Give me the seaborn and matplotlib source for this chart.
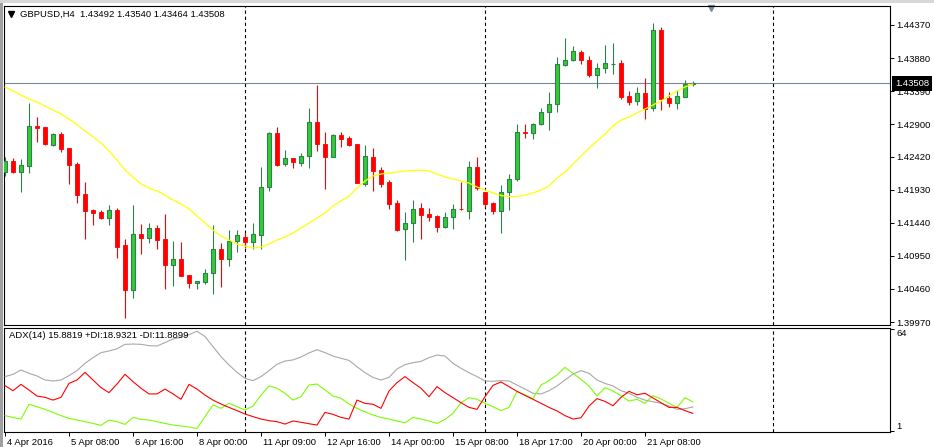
import numpy as np
import pandas as pd
import matplotlib
matplotlib.use("Agg")
import matplotlib.pyplot as plt
import seaborn as sns
from matplotlib.transforms import blended_transform_factory, ScaledTranslation
from matplotlib.patches import Rectangle

# ---------------- data ----------------
opens = [1.42188, 1.42355, 1.42197, 1.42286, 1.42869, 1.42854, 1.42597, 1.42755, 1.42543, 1.42311,
         1.41862, 1.41625, 1.41595, 1.41515, 1.41629, 1.41111, 1.40449, 1.41269, 1.41210, 1.41358,
         1.41195, 1.40819, 1.40899, 1.40662, 1.40552, 1.40567, 1.40691, 1.41047, 1.40908, 1.41166,
         1.41225, 1.41160, 1.41265, 1.41966, 1.42770, 1.42315, 1.42395, 1.42330, 1.42425, 1.42929,
         1.42611, 1.42419, 1.42736, 1.42690, 1.42600, 1.42019, 1.42414, 1.42222, 1.42044, 1.41733,
         1.41343, 1.41432, 1.41659, 1.41570, 1.41540, 1.41382, 1.41521, 1.41648, 1.41619, 1.42267,
         1.41896, 1.41733, 1.41619, 1.41891, 1.42089, 1.42780, 1.42766, 1.42899, 1.43077, 1.43195,
         1.43777, 1.43847, 1.43966, 1.43847, 1.43634, 1.43729, 1.43788, 1.43803, 1.43318, 1.43240,
         1.43358, 1.43136, 1.44291, 1.43284, 1.43210, 1.43308, 1.43492]
highs = [1.42410, 1.42395, 1.42385, 1.43214, 1.43007, 1.42860, 1.42774, 1.42780, 1.42545, 1.42340,
         1.42044, 1.41640, 1.41625, 1.41699, 1.41659, 1.41200, 1.41703, 1.41422, 1.41437, 1.41403,
         1.41570, 1.41170, 1.41155, 1.40665, 1.40580, 1.40755, 1.41407, 1.41140, 1.41333, 1.41333,
         1.41284, 1.41437, 1.42266, 1.42785, 1.42859, 1.42518, 1.42400, 1.42474, 1.43140, 1.43481,
         1.42785, 1.42755, 1.42785, 1.42726, 1.42600, 1.42592, 1.42548, 1.42271, 1.42078, 1.41777,
         1.41600, 1.41777, 1.41737, 1.41659, 1.41555, 1.41600, 1.41718, 1.42044, 1.42360, 1.42414,
         1.41896, 1.41748, 1.42000, 1.42163, 1.42903, 1.42903, 1.42918, 1.43140, 1.43377, 1.43896,
         1.44177, 1.44059, 1.44004, 1.43906, 1.43803, 1.44074, 1.44103, 1.43847, 1.43392, 1.43451,
         1.43589, 1.44400, 1.44336, 1.43377, 1.43407, 1.43555, 1.43540]
lows = [1.42137, 1.42177, 1.41900, 1.42177, 1.42637, 1.42592, 1.42582, 1.42493, 1.42019, 1.41737,
        1.41204, 1.41411, 1.41496, 1.41411, 1.40923, 1.40034, 1.40330, 1.40982, 1.41145, 1.41056,
        1.40463, 1.40508, 1.40647, 1.40478, 1.40463, 1.40537, 1.40389, 1.40493, 1.40804, 1.41011,
        1.41062, 1.41056, 1.41056, 1.41915, 1.42286, 1.42286, 1.42256, 1.42286, 1.42256, 1.42503,
        1.41945, 1.42415, 1.42567, 1.42577, 1.42030, 1.41989, 1.41915, 1.41974, 1.41649, 1.41323,
        1.40893, 1.41160, 1.41204, 1.41471, 1.41308, 1.41367, 1.41352, 1.41635, 1.41500, 1.41930,
        1.41678, 1.41574, 1.41293, 1.41629, 1.42063, 1.42700, 1.42686, 1.42889, 1.42819, 1.43086,
        1.43767, 1.43837, 1.43797, 1.43604, 1.43441, 1.43663, 1.43649, 1.43278, 1.43189, 1.43189,
        1.42982, 1.43100, 1.43115, 1.43160, 1.43130, 1.43305, 1.43464]
closes = [1.42355, 1.42197, 1.42291, 1.42869, 1.42844, 1.42607, 1.42755, 1.42537, 1.42300, 1.41856,
          1.41619, 1.41589, 1.41515, 1.41625, 1.41086, 1.40449, 1.41269, 1.41210, 1.41358, 1.41189,
          1.40819, 1.40899, 1.40656, 1.40552, 1.40577, 1.40691, 1.41047, 1.40908, 1.41166, 1.41254,
          1.41160, 1.41269, 1.41966, 1.42770, 1.42296, 1.42395, 1.42345, 1.42425, 1.42929, 1.42611,
          1.42419, 1.42736, 1.42686, 1.42592, 1.42034, 1.42425, 1.42211, 1.42019, 1.41723, 1.41337,
          1.41432, 1.41640, 1.41560, 1.41530, 1.41382, 1.41521, 1.41644, 1.41640, 1.42262, 1.41955,
          1.41723, 1.41619, 1.41891, 1.42089, 1.42780, 1.42766, 1.42899, 1.43077, 1.43195, 1.43788,
          1.43847, 1.43980, 1.43847, 1.43629, 1.43729, 1.43803, 1.43797, 1.43308, 1.43234, 1.43358,
          1.43130, 1.44291, 1.43278, 1.43219, 1.43314, 1.43491, 1.43508]
ma = [1.43451, 1.43392, 1.43333, 1.43274, 1.43229, 1.43170, 1.43111, 1.43051, 1.42977, 1.42889,
      1.42800, 1.42711, 1.42622, 1.42503, 1.42370, 1.42222, 1.42118, 1.42014, 1.41955, 1.41911,
      1.41851, 1.41777, 1.41718, 1.41644, 1.41540, 1.41437, 1.41333, 1.41244, 1.41185, 1.41126,
      1.41096, 1.41066, 1.41081, 1.41126, 1.41185, 1.41229, 1.41289, 1.41363, 1.41437, 1.41511,
      1.41585, 1.41689, 1.41763, 1.41837, 1.41956, 1.42059, 1.42133, 1.42163, 1.42177, 1.42192,
      1.42207, 1.42214, 1.42222, 1.42207, 1.42163, 1.42118, 1.42089, 1.42059, 1.42029, 1.41970,
      1.41926, 1.41881, 1.41844, 1.41826, 1.41829, 1.41851, 1.41881, 1.41926, 1.41985, 1.42103,
      1.42192, 1.42311, 1.42429, 1.42548, 1.42651, 1.42755, 1.42874, 1.42963, 1.43007, 1.43066,
      1.43126, 1.43185, 1.43244, 1.43318, 1.43392, 1.43451, 1.43496]
adx = [34.6, 36.0, 38.7, 36.6, 35.0, 32.5, 31.9, 32.5, 35.2, 38.3,
       42.8, 46.3, 49.4, 50.4, 51.8, 54.5, 54.7, 54.5, 53.7, 53.5,
       55.6, 57.8, 58.9, 60.5, 62.6, 59.3, 53.1, 46.9, 41.8, 37.2,
       33.5, 32.1, 34.6, 38.3, 42.2, 44.2, 44.9, 46.7, 49.2, 51.2,
       49.4, 47.3, 45.9, 44.6, 40.7, 37.0, 34.1, 32.5, 34.1, 39.3,
       42.0, 43.2, 44.0, 46.3, 47.9, 47.3, 42.8, 39.7, 37.0, 34.6,
       31.9, 31.7, 32.1, 31.9, 29.4, 26.9, 24.3, 23.9, 25.9, 28.8,
       32.5, 36.2, 38.3, 36.6, 32.5, 30.4, 28.8, 25.9, 24.3, 21.8,
       20.1, 19.1, 18.1, 16.4, 14.4, 14.8, 15.88]
plus_di = [10.5, 9.4, 8.4, 17.5, 16.0, 14.4, 12.5, 10.5, 8.8, 7.8,
           6.8, 5.7, 4.5, 7.8, 6.8, 5.1, 9.4, 8.2, 7.8, 6.8,
           5.7, 4.7, 4.1, 3.5, 2.6, 9.9, 17.1, 15.0, 18.1, 16.0,
           14.0, 16.4, 23.2, 28.8, 27.4, 24.3, 20.1, 22.2, 29.4, 30.0,
           26.3, 22.6, 21.2, 17.7, 15.0, 12.9, 10.9, 9.4, 8.4, 7.2,
           6.1, 9.4, 8.4, 7.2, 5.7, 8.2, 11.9, 18.5, 21.6, 20.6,
           18.1, 16.0, 13.6, 15.6, 25.3, 23.4, 21.0, 29.4, 32.1, 35.6,
           40.3, 36.6, 32.9, 28.8, 22.6, 27.8, 25.7, 22.8, 19.5, 20.6,
           18.1, 22.8, 20.8, 18.1, 15.6, 21.6, 18.93]
minus_di = [29.0, 25.9, 29.8, 26.3, 22.6, 21.8, 20.1, 21.8, 30.4, 32.5,
            37.2, 32.5, 27.8, 24.7, 30.0, 36.0, 31.5, 27.4, 23.9, 23.9,
            26.9, 23.9, 20.6, 29.8, 26.9, 23.2, 20.1, 17.7, 15.6, 13.6,
            11.5, 9.9, 8.4, 7.4, 6.8, 5.3, 7.2, 6.4, 5.5, 4.7,
            12.5, 11.3, 9.4, 8.4, 20.1, 18.1, 17.5, 15.0, 25.7, 30.9,
            34.6, 30.9, 27.4, 22.2, 28.4, 24.7, 21.6, 18.5, 15.6, 14.4,
            22.2, 29.2, 31.3, 28.4, 25.5, 23.0, 20.6, 18.1, 15.6, 13.4,
            10.5, 8.4, 9.2, 16.4, 21.0, 19.3, 16.6, 21.8, 25.5, 23.4,
            24.3, 21.4, 18.5, 15.6, 15.6, 13.6, 11.89]

price_ticks = [1.44370, 1.43880, 1.43390, 1.42900, 1.42420, 1.41930, 1.41440, 1.40950, 1.40460, 1.39970]
time_tick_bars = [0, 8, 16, 24, 32, 40, 48, 56, 64, 72, 80]
time_tick_labels = ["4 Apr 2016", "5 Apr 08:00", "6 Apr 16:00", "8 Apr 00:00", "11 Apr 09:00",
                    "12 Apr 16:00", "14 Apr 00:00", "15 Apr 08:00", "18 Apr 17:00", "20 Apr 00:00",
                    "21 Apr 08:00"]
separator_bars = [30, 60, 96]
current_price = 1.43508
title_text = "GBPUSD,H4  1.43492 1.43540 1.43464 1.43508"
adx_text = "ADX(14) 15.8819 +DI:18.9321 -DI:11.8899"
adx_scale_labels = [64, 1]

# ---------------- style ----------------
sns.set_style("white")
plt.rcParams['font.family'] = ['Liberation Sans', 'DejaVu Sans']
FS = 6.8

W, H = 934, 447
fig = plt.figure(figsize=(W / 100, H / 100), dpi=100)
fig.patch.set_facecolor('white')


def rect(l, t, r, b):
    return [l / W, 1 - b / H, (r - l) / W, (b - t) / H]


ax = fig.add_axes(rect(4, 6, 890, 325))
ax2 = fig.add_axes(rect(4, 328, 890, 432), sharex=ax)

df = pd.DataFrame({"bar": np.arange(len(opens)), "open": opens, "high": highs,
                   "low": lows, "close": closes, "ma": ma,
                   "adx": adx, "pdi": plus_di, "mdi": minus_di})

x = df["bar"].to_numpy()
o = df["open"].to_numpy(); h = df["high"].to_numpy()
lo = df["low"].to_numpy(); c = df["close"].to_numpy()
up = c >= o
bb = np.minimum(o, c)
bh = np.abs(c - o)

GREEN_EDGE = '#2F7F4F'
ax.axhline(current_price, color='#778899', lw=0.8, zorder=1)
for s in separator_bars:
    for a in (ax, ax2):
        a.axvline(s, color='black', lw=0.8, ls=(0, (3, 2.5)), zorder=1)

ax.vlines(x[up], lo[up], h[up], color=GREEN_EDGE, lw=0.8, zorder=2)
ax.vlines(x[~up], lo[~up], h[~up], color='#FF0000', lw=0.8, zorder=2)
ax.bar(x[up], bh[up], bottom=bb[up], width=0.62, color='#32CD32',
       edgecolor=GREEN_EDGE, linewidth=0.8, zorder=3)
ax.bar(x[~up], bh[~up], bottom=bb[~up], width=0.62, color='#FF0000',
       edgecolor='#FF0000', linewidth=0.6, zorder=3)

sns.lineplot(data=df, x="bar", y="ma", ax=ax, color='#FFFF00', lw=0.9, zorder=4)

sns.lineplot(data=df, x="bar", y="adx", ax=ax2, color='#A8A8A8', lw=0.8, zorder=3)
sns.lineplot(data=df, x="bar", y="pdi", ax=ax2, color='#7CFC00', lw=0.8, zorder=3)
sns.lineplot(data=df, x="bar", y="mdi", ax=ax2, color='#FF0000', lw=0.8, zorder=3)

# axes limits
ax.set_xlim(-0.125, 110.625)
ax.set_ylim(1.39926, 1.44651)
ax2.set_ylim(0.4, 64.6)

for a in (ax, ax2):
    a.set_xlabel("")
    a.set_ylabel("")
    a.set_facecolor('white')
    for sp in a.spines.values():
        sp.set_color('black')
        sp.set_linewidth(0.8)
        sp.set_visible(True)

# price axis
ax.yaxis.tick_right()
ax.set_yticks(price_ticks)
ax.set_yticklabels([f"{p:.5f}" for p in price_ticks])
ax.tick_params(axis='y', direction='out', length=3, width=0.7, pad=1.5,
               labelsize=FS, colors='black', right=True, left=False)
ax.tick_params(axis='x', bottom=False, labelbottom=False)

# adx axis
ax2.yaxis.tick_right()
ax2.set_yticks(adx_scale_labels)
ax2.set_yticklabels([str(v) for v in adx_scale_labels])
ax2.tick_params(axis='y', direction='out', length=3, width=0.7, pad=1.5,
                labelsize=FS, colors='black', right=True, left=False)
ylabels = ax2.get_yticklabels()
ylabels[0].set_va('top')
ylabels[1].set_va('bottom')

ax2.set_xticks(time_tick_bars)
ax2.set_xticklabels(time_tick_labels, ha='left')
ax2.tick_params(axis='x', direction='out', length=3, width=0.7, pad=1.2,
                labelsize=FS, colors='black', bottom=True)
off = ScaledTranslation(2 / 100, 0, fig.dpi_scale_trans)
for lbl in ax2.get_xticklabels():
    lbl.set_transform(lbl.get_transform() + off)

# current price tag
bt = blended_transform_factory(ax.transAxes, ax.transData)
ax.text((895 - 4) / 886, current_price, f"{current_price:.5f}", transform=bt,
        ha='left', va='center', color='white', fontsize=FS, zorder=20, clip_on=False,
        bbox=dict(boxstyle='square,pad=0.3', fc='black', ec='black', lw=0))

# texts
fig.text(20 / W, 1 - 14 / H, title_text, ha='left', va='center', fontsize=FS, color='black')
ax.plot([11 / W], [1 - 14 / H], marker='v', color='black', ms=4, transform=fig.transFigure,
        clip_on=False, lw=0)
fig.text(9 / W, 1 - 336 / H, adx_text, ha='left', va='center', fontsize=FS, color='black')
# chart shift marker
ax.plot([711 / W], [1 - 8 / H], marker='v', color='#778899', ms=5, transform=fig.transFigure,
        clip_on=False, lw=0)

# window frame
fig.patches.append(Rectangle((0, 0), 2.5 / W, 1, transform=fig.transFigure,
                             facecolor='#A0A0A0', edgecolor='none'))
fig.patches.append(Rectangle((0, 1 - 3 / H), 1, 3 / H, transform=fig.transFigure,
                             facecolor='#D8D8D8', edgecolor='none'))

fig.savefig("out.png", dpi=100, facecolor='white')
